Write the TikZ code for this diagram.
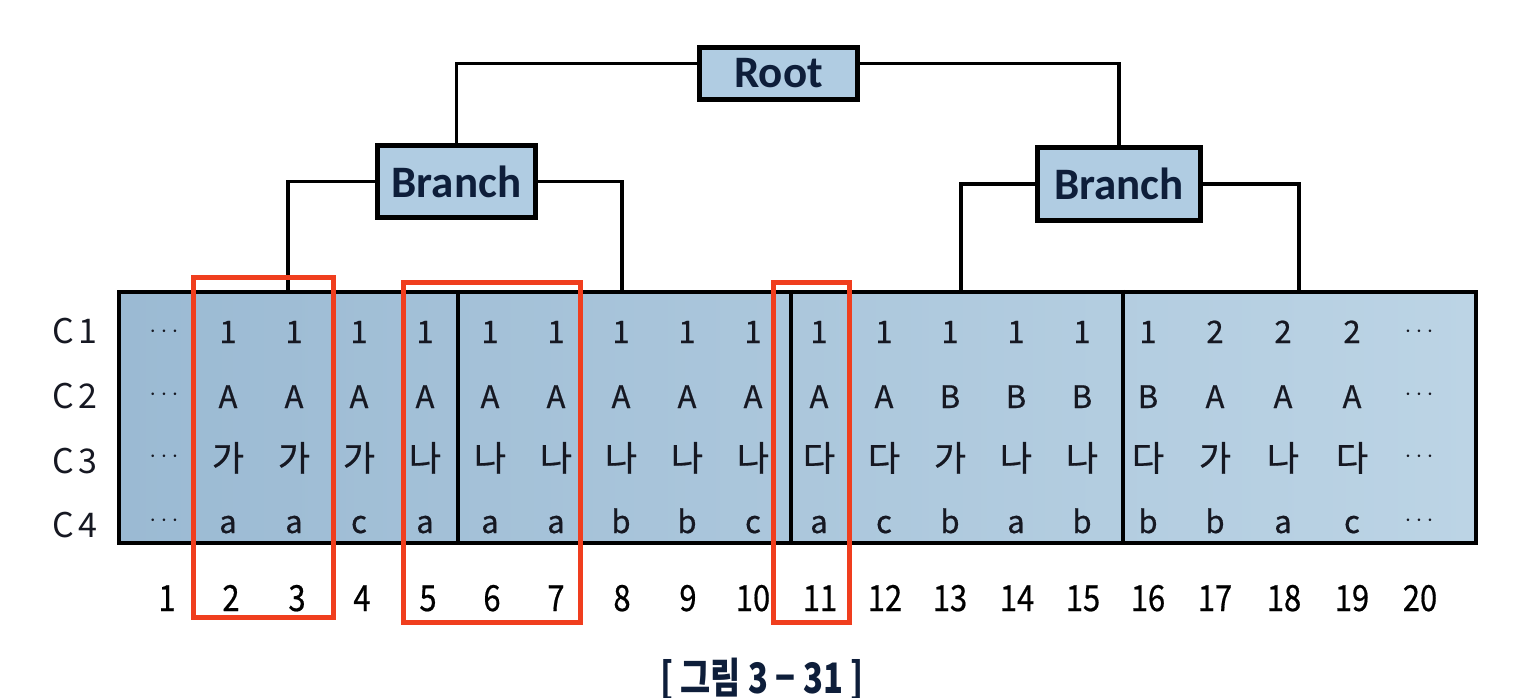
\documentclass[tikz,border=0pt]{standalone}
\usepackage{fontspec}
\setmainfont{Noto Sans CJK KR}
\newfontfamily\cellfont[FakeBold=0.6]{Noto Sans CJK KR}
\newfontfamily\boxfont{Carlito}
\definecolor{bandL}{RGB}{155,186,211}
\definecolor{bandR}{RGB}{188,212,229}
\definecolor{boxfill}{RGB}{176,204,226}
\definecolor{navy}{RGB}{14,30,58}
\definecolor{selred}{RGB}{240,62,30}
\definecolor{ink}{RGB}{22,24,34}
\begin{document}
\begin{tikzpicture}[x=1pt,y=-1pt,
  treebox/.style={draw=black, line width=5.5pt, fill=boxfill, inner sep=0pt,
    font=\boxfont\bfseries\fontsize{45}{50}\selectfont, text=navy},
  wire/.style={draw=black, line width=3.8pt},
  bandbox/.style={draw=black, line width=4.5pt, left color=bandL, right color=bandR, inner sep=0pt},
  divider/.style={draw=black, line width=4pt},
  cell/.style={anchor=base, inner sep=0pt, text=ink, font=\cellfont\fontsize{31}{36}\selectfont},
  hcell/.style={cell, font=\cellfont\fontsize{35}{40}\selectfont},
  dotcell/.style={anchor=base, inner sep=0pt, text=ink, font=\fontsize{24}{28}\selectfont},
  rowlab/.style={anchor=base, inner sep=0pt, text=ink, font=\fontsize{34}{38}\selectfont},
  colnum/.style={anchor=base, inner sep=0pt, text=black, font=\cellfont\fontsize{36}{40}\selectfont, xscale=0.86},
  selbox/.style={draw=selred, line width=5pt, inner sep=0pt},
  caption/.style={inner sep=0pt, text=navy, font=\bfseries\fontsize{42}{46}\selectfont, xscale=0.78}
]
\useasboundingbox (0,0) rectangle (1539,698);

% tree boxes
\node[treebox, minimum width=158pt, minimum height=52pt] (root) at (778.5,73.5) {Root};
\node[treebox, minimum width=158pt, minimum height=72pt] (bl) at (456.5,181.5) {Branch};
\node[treebox, minimum width=163pt, minimum height=73pt] (br) at (1119,184) {Branch};

% band
\node[bandbox, minimum width=1357pt, minimum height=251pt] (band) at (797.5,417.5) {};
\coordinate (d1) at (458,0);
\coordinate (d2) at (791,0);
\coordinate (d3) at (1123,0);
\draw[divider] (band.north -| d1) -- (band.south -| d1);
\draw[divider] (band.north -| d2) -- (band.south -| d2);
\draw[divider] (band.north -| d3) -- (band.south -| d3);

% connectors
\coordinate (t1) at (288,292);
\coordinate (t2) at (622,292);
\coordinate (t3) at (961,292);
\coordinate (t4) at (1299,292);
\draw[wire] ([yshift=10pt]root.west) -| (bl.north);
\draw[wire] ([yshift=10pt]root.east) -| (br.north);
\draw[wire] (bl.west) -| (t1);
\draw[wire] (bl.east) -| (t2);
\draw[wire] (br.west) -| (t3);
\draw[wire] (br.east) -| (t4);

% row labels
\node[rowlab] (lc1) at (75,343) {C\hspace{4pt}1};
\node[rowlab] (lc2) at (75,408) {C\hspace{4pt}2};
\node[rowlab] (lc3) at (75,473) {C\hspace{4pt}3};
\node[rowlab] (lc4) at (75,537) {C\hspace{4pt}4};

% ellipses
\foreach \y [count=\r] in {337,400,462,526} {
  \node[dotcell] (el\r) at (164,\y) {$\cdots$};
  \node[dotcell] (er\r) at (1419,\y) {$\cdots$};
}

% row C1
\foreach \x/\v [count=\i from 2] in {228/1,294/1,359/1,425/1,490/1,556/1,621/1,687/1,753/1,819/1,884/1,950/1,1016/1,1082/1,1148/1,1215/2,1283/2,1352/2}
  \node[cell] (ra\i) at (\x,343) {\v};
% row C2
\foreach \x/\v [count=\i from 2] in {228/A,294/A,359/A,425/A,490/A,556/A,621/A,687/A,753/A,819/A,884/A,950/B,1016/B,1082/B,1148/B,1215/A,1283/A,1352/A}
  \node[cell] (rb\i) at (\x,408) {\v};
% row C3
\foreach \x/\v [count=\i from 2] in {228/가,294/가,359/가,425/나,490/나,556/나,621/나,687/나,753/나,819/다,884/다,950/가,1016/나,1082/나,1148/다,1215/가,1283/나,1352/다}
  \node[hcell] (rc\i) at (\x,471) {\v};
% row C4
\foreach \x/\v [count=\i from 2] in {228/a,294/a,359/c,425/a,490/a,556/a,621/b,687/b,753/c,819/a,884/c,950/b,1016/a,1082/b,1148/b,1215/b,1283/a,1352/c}
  \node[cell] (rd\i) at (\x,533) {\v};

% column numbers
\foreach \x [count=\i] in {167,231,297,362,428,492,556,622,688,753,820,885,950,1017,1083,1148,1215,1284,1352,1420}
  \node[colnum] (k\i) at (\x,611) {\i};

% selection boxes
\node[selbox, minimum width=140pt, minimum height=340pt] (sel1) at (263,447) {};
\node[selbox, minimum width=177pt, minimum height=340pt] (sel2) at (491.5,452) {};
\node[selbox, minimum width=76pt, minimum height=340pt] (sel3) at (811,452) {};

% caption
\node[caption] (cap) at (762,679) {[ 그림 3 − 31 ]};
\end{tikzpicture}
\end{document}
